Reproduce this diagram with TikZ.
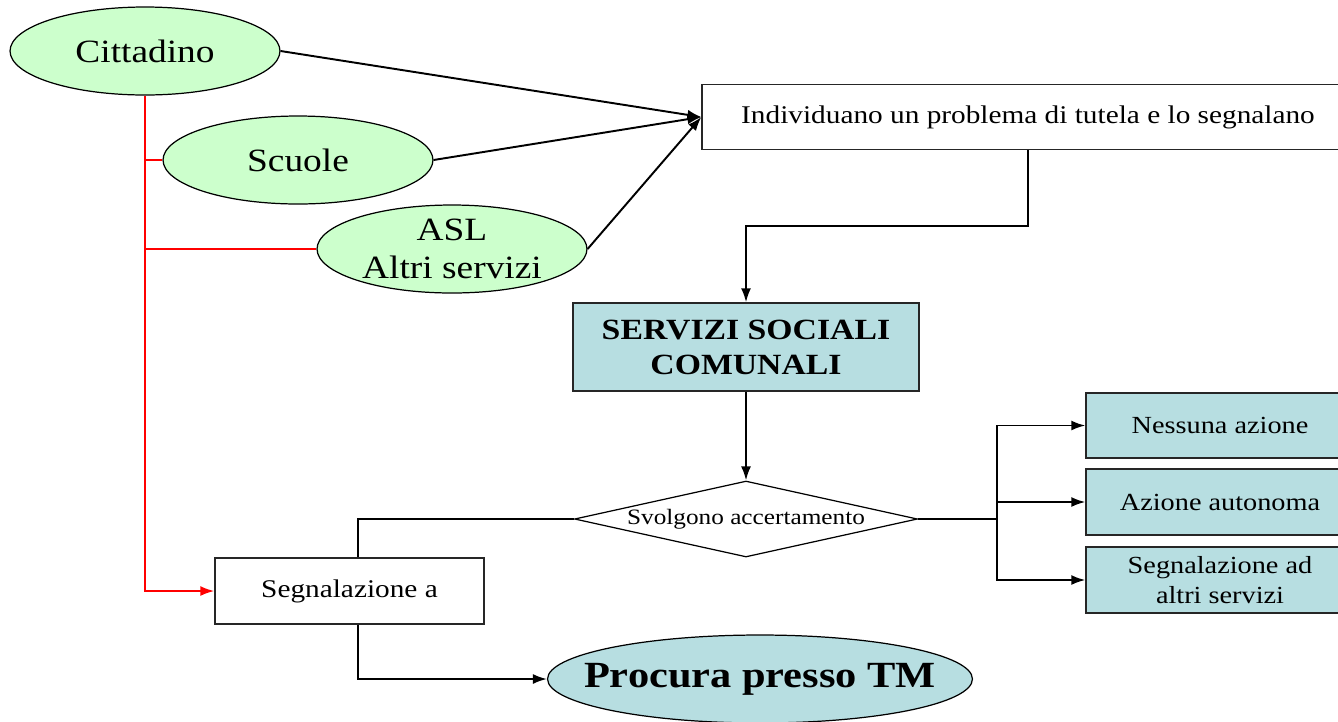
\documentclass[tikz,border=0pt]{standalone}
\usepackage{fontspec}
\setmainfont{Liberation Serif}[FakeStretch=1.15]
\usetikzlibrary{shapes.geometric,arrows.meta}
\definecolor{cgreen}{RGB}{204,255,204}
\definecolor{cblue}{RGB}{183,222,225}

\begin{document}
\begin{tikzpicture}[x=0.02cm,y=-0.02cm,
    ell/.style={shape=ellipse,draw=black,line width=0.7pt,inner sep=0pt},
    actor/.style={ell,fill=cgreen,minimum width=5.4cm,minimum height=1.76cm,font=\fontsize{18.5}{22}\selectfont},
    plainbox/.style={shape=rectangle,draw=black!85,line width=0.8pt,inner sep=0pt,minimum height=1.3cm,font=\fontsize{14.5}{17.4}\selectfont},
    bluebox/.style={plainbox,fill=cblue,minimum width=5.36cm,font=\fontsize{14}{16.8}\selectfont},
    line/.style={line width=1.1pt},
    link/.style={line,-{Latex[length=0.28cm,width=0.2cm]}},
    redlink/.style={link,draw=red}]
    \useasboundingbox (0,0) rectangle (1338,721);
    \clip (0,0) rectangle (1338,721);

    \node[actor] (cit) at (145,51) {Cittadino};
    \node[actor] (scu) at (298,160) {Scuole};
    \node[actor,align=center,inner ysep=-0.1cm] (asl) at (452,249) {ASL\\Altri servizi};
    \node[plainbox,minimum width=13.04cm] (ind) at (1028,117) {Individuano un problema di tutela e lo segnalano};
    \node[plainbox,fill=cblue,minimum width=6.92cm,minimum height=1.76cm,align=center,
          font=\bfseries\fontsize{16.7}{20}\selectfont] (ssc) at (746,347) {SERVIZI SOCIALI\\COMUNALI};
    \node[shape=diamond,aspect=4.5,draw=black,line width=0.7pt,inner sep=0pt,minimum width=6.86cm,
          minimum height=1.52cm,font=\fontsize{12.5}{15}\selectfont] (acc) at (746,519) {Svolgono accertamento};
    \node[plainbox,minimum width=5.38cm,minimum height=1.32cm] (seg) at (349.5,591) {Segnalazione a};
    \node[ell,fill=cblue,minimum width=8.5cm,minimum height=1.76cm,inner xsep=-0.55cm,
          font=\bfseries\fontsize{21}{25}\selectfont] (proc) at (760,679) {Procura presso TM};
    \node[bluebox] (nes) at (1220,425.5) {Nessuna azione};
    \node[bluebox,minimum height=1.32cm] (aut) at (1220,502) {Azione autonoma};
    \node[bluebox,minimum height=1.32cm,align=center] (sad) at (1220,580) {Segnalazione ad\\altri servizi};

    % chi segnala
    \draw[link] (cit.east) -- (ind.west);
    \draw[link] (scu.east) -- (ind.west);
    \draw[link] (asl.east) -- (ind.west);
    \draw[redlink] (cit.south) |- (seg.west);
    \draw[line,red] (scu.west -| cit.south) -- (scu.west);
    \draw[line,red] (asl.west -| cit.south) -- (asl.west);

    % percorso
    \draw[link] (ind.south) -- ++(0,76) -| (ssc.north);
    \draw[link] (ssc.south) -- (acc.north);
    \draw[line] (acc.west) -| ([xshift=0.17cm]seg.north);
    \draw[link] ([xshift=0.17cm]seg.south) |- (proc.west);
    \draw[line] (acc.east) -- ++(79,0) coordinate (fork);
    \draw[link] (fork) |- (nes.west);
    \draw[link] (fork) |- (aut.west);
    \draw[link] (fork) |- (sad.west);
\end{tikzpicture}
\end{document}
